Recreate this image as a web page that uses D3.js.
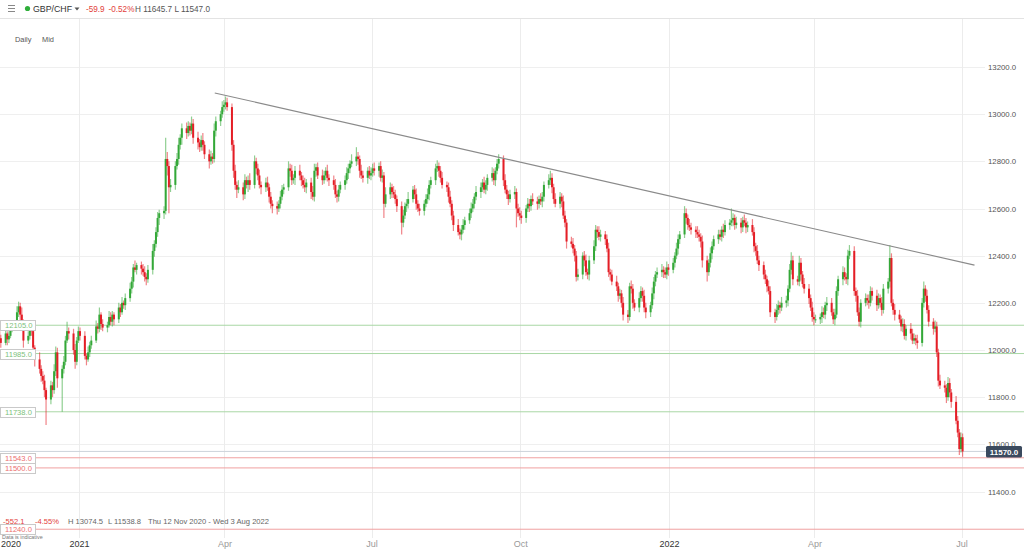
<!DOCTYPE html>
<html><head><meta charset="utf-8">
<script src="https://cdn.jsdelivr.net/npm/d3@7"></script>
<style>body{margin:0;background:#fff;overflow:hidden} text{font-family:"Liberation Sans",Arial,sans-serif}</style>
</head><body><svg id="c" width="1024" height="549"></svg>
<script>
// ---------- data ----------
const symbol = "GBP/CHF";
const startDate = [2020, 10, 12]; // Thu 12 Nov 2020, daily candles on weekdays
const firstOpen = 12080;
const closes = [
// Nov 2020
12050,12030,12070,12045,12060,12095,12110,12160,12185,12150,12120,12040,12060,
// Dec 2020
12100,12080,12010,11960, 11920,11890,11870,11830,11790, 11850,11830,11910,11990,11880, 11920,11950,12040,12080,12070, 12000,11950,12040,12080,
// Jan 2021
12060, 11975,11960,11990,12020,12040, 12100,12090,12150,12110,12095, 12105,12140,12120,12150,12130, 12180,12160,12200,12190,12220,
// Feb 2021
12260,12290,12350,12340,12360, 12345,12330,12310,12300,12340, 12420,12450,12500,12560,12580, 12590,12810,12780,12690,12700,
// Mar 2021
12780,12810,12870,12900,12940, 12920,12950,12930,12960,12900, 12880,12860,12890,12870,12830, 12800,12820,12810,12930,12970, 13000,13030,13040,
// Apr 2021
13050,13030, 12870,12760,12700,12680,12690, 12660,12720,12700,12720,12700, 12800,12770,12740,12700,12690, 12710,12690,12650,12620,12610,
// May 2021
12600,12620,12650,12680,12690, 12770,12760,12720,12730,12760, 12740,12720,12700,12690,12710, 12670,12650,12760,12775,12740, 12720,
// Jun 2021
12740,12760,12730,12720, 12700,12660,12650,12680,12700, 12720,12750,12770,12790,12800, 12820,12810,12760,12740,12730, 12760,12740,12750,
// Jul 2021
12770,12760, 12780,12730,12740,12620,12660, 12690,12670,12660,12640,12610, 12540,12570,12610,12620,12640, 12680,12660,12620,12600,12590,
// Aug 2021
12620,12640,12660,12700,12720, 12770,12780,12760,12730,12700, 12690,12650,12620,12570,12530, 12500,12490,12510,12530,12550, 12580,12600,
// Sep 2021
12620,12650,12670, 12690,12710,12680,12700,12730, 12750,12720,12760,12790,12810, 12720,12680,12660,12640,12660, 12670,12600,12580,12570,
// Oct 2021
12560, 12600,12620,12610,12640,12630, 12620,12640,12630,12650,12700, 12720,12730,12690,12640,12620, 12650,12630,12570,12540,12460,
// Nov 2021
12450,12430,12400,12310,12320, 12400,12380,12330,12320,12380, 12440,12510,12500,12480,12490, 12470,12430,12330,12320,12290, 12270,12230,
// Dec 2021
12240,12200,12150, 12140,12270,12260,12200,12180, 12220,12250,12230,12180,12160, 12190,12240,12290,12320,12330, 12340,12330,12320,12350,12340,
// Jan 2022
12370,12400,12430,12470,12490, 12580,12560,12530,12520,12510, 12500,12490,12480,12460,12380, 12330,12370,12410,12440,12470, 12490,
// Feb 2022
12480,12510,12500,12530, 12540,12550,12560,12530,12540, 12520,12550,12540,12520,12530, 12500,12440,12420,12380,12360, 12320,
// Mar 2022
12300,12270,12250,12160, 12140,12170,12190,12180,12200, 12210,12260,12340,12380,12300, 12290,12370,12320,12280,12260, 12220,12180,12140,12130,
// Apr 2022
12130, 12140,12160,12150,12190,12200, 12160,12130,12150,12250,12300, 12330,12310,12300,12400,12420, 12250,12230,12160,12120,12200,
// May 2022
12220,12210,12200,12250,12230, 12190,12220,12200,12170,12260, 12290,12390,12200,12170,12150, 12130,12100,12110,12060,12090, 12070,12040,
// Jun 2022
12050,12040,12030, 12200,12260,12230,12170,12120, 12090,12100,11990,11870,11850, 11840,11800,11860,11820,11780, 11700,11650,11580,11630,
// Jul 2022
11570
];
// upper / lower shadow lengths (price points)
const wickUp = [
20,15,25,10,20,30,15,25,20,15,30,10,20,
20,15,25,10, 30,15,20,25,10, 20,15,30,25,20, 15,25,20,40,15, 20,25,15,20,
15, 20,10,25,15,20, 25,15,30,10,20, 15,25,20,15,10, 20,15,25,10,20,
25,20,15,30,10, 15,20,25,15,20, 30,15,20,25,15, 20,90,30,20,25,
20,25,30,15,20, 25,20,15,30,20, 25,15,20,30,15, 20,25,15,30,20, 15,25,20,
25,20, 15,20,25,15,30, 20,25,15,20,30, 25,15,20,25,15, 20,25,15,20,15,
20,15,25,20,15, 30,20,25,15,20, 25,15,20,30,15, 20,25,30,15,20, 25,
20,15,25,15, 20,25,15,20,15, 20,25,20,15,30, 40,20,15,25,20, 15,20,25,
20,25, 15,20,25,15,30, 20,15,25,20,15, 20,25,15,20,30, 15,20,25,15,20,
15,20,25,20,15, 20,25,15,20,25, 15,20,25,15,20, 25,15,20,25,15, 20,25,
20,15,25, 20,15,25,20,15, 25,20,15,20,20, 15,25,20,15,20, 25,15,20,25,
20, 15,25,20,15,25, 20,15,25,20,15, 25,30,20,15,25, 20,15,25,20,15,
20,25,15,20,25, 15,20,25,15,20, 25,20,15,25,20, 15,20,25,15,20, 25,15,
20,15,25, 20,15,25,20,15, 25,20,15,25,20, 15,25,20,15,20, 25,15,20,25,15,
20,15,25,20,15, 30,20,15,25,20, 15,25,20,15,25, 20,15,25,20,15, 20,
20,15,25,20, 15,50,20,15,25, 20,15,25,20,15, 25,20,15,25,20, 15,
20,15,25,20, 15,25,20,15,25, 20,15,25,35,20, 15,30,20,15,25, 20,15,25,20,
20, 15,25,20,15,25, 20,15,25,20,15, 25,20,15,25,25, 20,15,25,20,15,
20,15,25,20,15, 25,20,15,25,20, 15,55,20,15,25, 20,15,25,20,15, 25,20,
20,15,25, 20,30,15,25,20, 15,25,20,15,25, 20,15,25,20,15, 25,20,15,20,
16
];
const wickDn = [
15,20,10,25,15,10,20,15,20,25,15,30,15,
15,20,25,30, 20,25,15,30,108, 20,30,15,20,40, 142,20,15,10,25, 20,30,15,10,
20, 15,25,10,20,15, 10,20,15,25,15, 20,10,15,20,25, 15,20,10,15,20,
15,20,25,10,20, 25,15,20,25,15, 20,25,15,20,30, 25,15,40,110,20,
20,15,25,20,30, 25,15,20,15,25, 30,20,15,25,20, 30,15,20,15,25, 20,15,20,
20,15, 25,30,20,35,15, 25,20,15,30,20, 15,25,20,15,30, 20,15,25,20,30,
25,15,20,15,20, 15,25,20,15,30, 20,25,15,20,25, 30,15,20,25,15, 20,
15,20,15,25, 20,15,25,20,15, 20,15,25,20,15, 20,25,30,15,20, 25,15,20,
15,20, 25,15,20,60,15, 20,25,15,20,25, 50,20,15,25,20, 15,20,25,15,20,
20,15,20,25,15, 20,15,25,20,15, 20,25,15,20,25, 15,20,25,15,20, 15,20,
15,20,15, 25,20,15,20,25, 15,20,25,15,20, 25,15,20,25,15, 20,80,15,20,
25, 20,15,25,20,15, 25,20,15,25,20, 15,20,25,20,15, 20,25,15,20,30,
15,20,25,20,15, 20,25,15,20,25, 15,20,25,15,20, 25,15,20,25,15, 20,25,
15,20,25, 25,15,20,25,15, 20,15,25,20,25, 20,15,25,20,15, 20,25,15,20,25,
15,20,15,25,20, 15,25,20,15,20, 25,15,20,25,30, 40,15,20,25,15, 20,
15,20,25,15, 20,15,25,20,15, 25,20,15,25,20, 15,25,20,15,25, 20,
20,25,15,20, 25,15,20,25,15, 20,25,15,20,25, 15,20,25,15,20, 25,15,20,25,
15, 20,25,15,20,25, 15,20,25,15,20, 25,15,20,25,15, 20,25,15,20,25,
15,20,25,15,20, 25,15,20,25,15, 20,25,15,20,25, 15,20,25,15,20, 25,15,
15,20,25, 15,20,25,15,20, 25,15,20,25,15, 20,25,15,20,25, 15,20,25,15,
23
];
const yTicks = [11400, 11600, 11800, 12000, 12200, 12400, 12600, 12800, 13000, 13200];
const xTickDates = [[2021,0,1],[2021,3,1],[2021,6,1],[2021,9,1],[2022,0,1],[2022,3,1],[2022,6,1]];
const xTickLabels = ["2021","Apr","Jul","Oct","2022","Apr","Jul"];
const supportLevels = [12105, 11985, 11738];
const resistanceLevels = [11543, 11500, 11240];
const lastPrice = 11570;
const trendDates = [[2021,2,26],[2022,6,9]];
const trendValues = [13090, 12360];
const headerStats = {change:"-59.9", pct:"-0.52%", hl:"H 11645.7 L 11547.0"};
const rangeStats = {change:"-552.1", pct:"-4.55%", hi:"H 13074.5", lo:"L 11538.8", span:"Thu 12 Nov 2020 - Wed 3 Aug 2022"};

// ---------- layout ----------
const W = 1024, H = 549;
const svg = d3.select("#c");
const x = d3.scaleUtc().domain([Date.UTC(2021,0,1), Date.UTC(2022,0,1)]).range([79, 669]);
const y = d3.scaleLinear().domain([11400, 13200]).range([491.5, 67]);
const GREEN = "#34a838", RED = "#e41e26";
const plotRight = 985;

// weekday dates
const dates = [];
{ let t = Date.UTC(...startDate);
  while (dates.length < closes.length) { const d = new Date(t); const wd = d.getUTCDay(); if (wd !== 0 && wd !== 6) dates.push(d); t += 864e5; } }
const candles = closes.map((c, i) => {
  const o = i === 0 ? firstOpen : closes[i-1];
  return {date: dates[i], o, c, h: Math.max(o,c) + (wickUp[i]||0), l: Math.min(o,c) - (wickDn[i]||0)};
});

// header
svg.append("line").attr("x1",0).attr("x2",W).attr("y1",18.5).attr("y2",18.5).attr("stroke","#e3e3e3");
[5.5,8.5,11.5].forEach(v=>svg.append("line").attr("x1",8).attr("x2",15).attr("y1",v).attr("y2",v).attr("stroke","#888").attr("stroke-width",1));
svg.append("circle").attr("cx",27.5).attr("cy",8.5).attr("r",2.6).attr("fill","#2fae3a");
svg.append("text").attr("x",33).attr("y",12).attr("font-size",8.8).attr("fill","#333").text(symbol);
svg.append("path").attr("d","M74.5,7.5 L79.5,7.5 L77,10.5Z").attr("fill","#555");
svg.append("text").attr("x",86).attr("y",12).attr("font-size",8.2).attr("fill","#e2413b").text(headerStats.change);
svg.append("text").attr("x",108.5).attr("y",12).attr("font-size",8.2).attr("fill","#e2413b").text(headerStats.pct);
svg.append("text").attr("x",135).attr("y",12).attr("font-size",8.2).attr("fill","#555").text(headerStats.hl);
svg.append("text").attr("x",15).attr("y",42).attr("font-size",7.4).attr("fill","#555").text("Daily");
svg.append("text").attr("x",42).attr("y",42).attr("font-size",7.4).attr("fill","#555").text("Mid");

// grid
const g = svg.append("g");
g.selectAll(".hg").data(yTicks).join("line").attr("x1",0).attr("x2",plotRight)
  .attr("y1",d=>Math.round(y(d))+0.5).attr("y2",d=>Math.round(y(d))+0.5).attr("stroke","#efefef");
g.selectAll(".vg").data(xTickDates).join("line")
  .attr("x1",d=>Math.round(x(Date.UTC(...d)))+0.5).attr("x2",d=>Math.round(x(Date.UTC(...d)))+0.5)
  .attr("y1",19).attr("y2",538).attr("stroke","#ececec");

// horizontal levels
const lvl = svg.append("g");
lvl.selectAll(".sl").data(supportLevels).join("line").attr("x1",36).attr("x2",W)
  .attr("y1",d=>y(d)).attr("y2",d=>y(d)).attr("stroke","#a9d7a5").attr("stroke-width",1);
lvl.selectAll(".rl").data(resistanceLevels).join("line").attr("x1",d=>d===11240?0:36).attr("x2",W)
  .attr("y1",d=>y(d)).attr("y2",d=>y(d)).attr("stroke","#f0a0a0").attr("stroke-width",1);
lvl.append("line").attr("x1",0).attr("x2",986).attr("y1",y(lastPrice)).attr("y2",y(lastPrice)).attr("stroke","#ccd2da");

// candles
const cg = svg.append("g");
const cx = d => x(d.date) + 1;
cg.selectAll(".wick").data(candles).join("line")
  .attr("x1",cx).attr("x2",cx).attr("y1",d=>y(d.h)).attr("y2",d=>y(d.l))
  .attr("stroke",d=>d.c>=d.o?GREEN:RED).attr("stroke-opacity",0.55).attr("stroke-width",1.2);
cg.selectAll(".body").data(candles).join("rect")
  .attr("x",d=>cx(d)-1).attr("width",2)
  .attr("y",d=>y(Math.max(d.o,d.c))).attr("height",d=>Math.max(1,Math.abs(y(d.o)-y(d.c))))
  .attr("fill",d=>d.c>=d.o?GREEN:RED);

// trend line
svg.append("line").attr("x1",x(Date.UTC(...trendDates[0]))).attr("y1",y(trendValues[0]))
  .attr("x2",x(Date.UTC(...trendDates[1]))).attr("y2",y(trendValues[1])).attr("stroke","#8a8a8a").attr("stroke-width",1.1);

// left level labels
const lab = svg.append("g");
const levelLabels = supportLevels.map(v=>({v,col:"#7cc17a"})).concat(resistanceLevels.map(v=>({v,col:"#ec6f6f"})));
levelLabels.forEach(d=>{
  const yy = y(d.v);
  lab.append("rect").attr("x",0.5).attr("y",Math.round(yy)-4.5).attr("width",35).attr("height",10).attr("fill","#fff").attr("stroke","#c9c9c9");
  lab.append("text").attr("x",5).attr("y",Math.round(yy)+3.3).attr("font-size",7.6).attr("fill",d.col).text(d3.format(".1f")(d.v));
});

// right axis
const ax = svg.append("g").attr("transform",`translate(988,0)`)
  .call(d3.axisRight(y).tickValues(yTicks).tickSize(0).tickFormat(d3.format(".1f")));
ax.select(".domain").remove();
ax.selectAll("text").attr("x",0).attr("dy","0.32em").attr("font-size",7.8).attr("fill","#555").attr("font-family","Liberation Sans, Arial, sans-serif");
// last price box
svg.append("rect").attr("x",986).attr("y",y(lastPrice)-5.5).attr("width",36).attr("height",11.5).attr("rx",1.5).attr("fill","#3b4a5e");
svg.append("text").attr("x",1004).attr("y",y(lastPrice)+3.2).attr("text-anchor","middle").attr("font-size",8).attr("font-weight","bold").attr("fill","#fff").text(d3.format(".1f")(lastPrice));

// bottom stats
svg.append("text").attr("x",3).attr("y",524).attr("font-size",7.6).attr("fill","#e2413b").text(rangeStats.change);
svg.append("text").attr("x",35).attr("y",524).attr("font-size",7.6).attr("fill","#e2413b").text(rangeStats.pct);
svg.append("text").attr("x",68).attr("y",524).attr("font-size",7.6).attr("fill","#666").text(rangeStats.hi);
svg.append("text").attr("x",108).attr("y",524).attr("font-size",7.6).attr("fill","#666").text(rangeStats.lo);
svg.append("text").attr("x",148).attr("y",524).attr("font-size",7.6).attr("fill","#666").text(rangeStats.span);
svg.append("text").attr("x",2).attr("y",538.5).attr("font-size",5.4).attr("fill","#777").text("Data is indicative");

// x axis labels
const xa = svg.append("g").attr("transform","translate(0,547)")
  .call(d3.axisBottom(x).tickValues(xTickDates.map(d=>new Date(Date.UTC(...d)))).tickSize(0).tickFormat((d,i)=>xTickLabels[i]));
xa.select(".domain").remove();
xa.selectAll("text").attr("y",0).attr("dy",0).attr("font-size",9).attr("font-family","Liberation Sans, Arial, sans-serif")
  .attr("fill",(d,i)=>/^\d/.test(xTickLabels[i])?"#333":"#999");
svg.append("text").attr("x",11).attr("y",547).attr("text-anchor","middle").attr("font-size",9).attr("fill","#333").text("2020");
</script></body></html>
